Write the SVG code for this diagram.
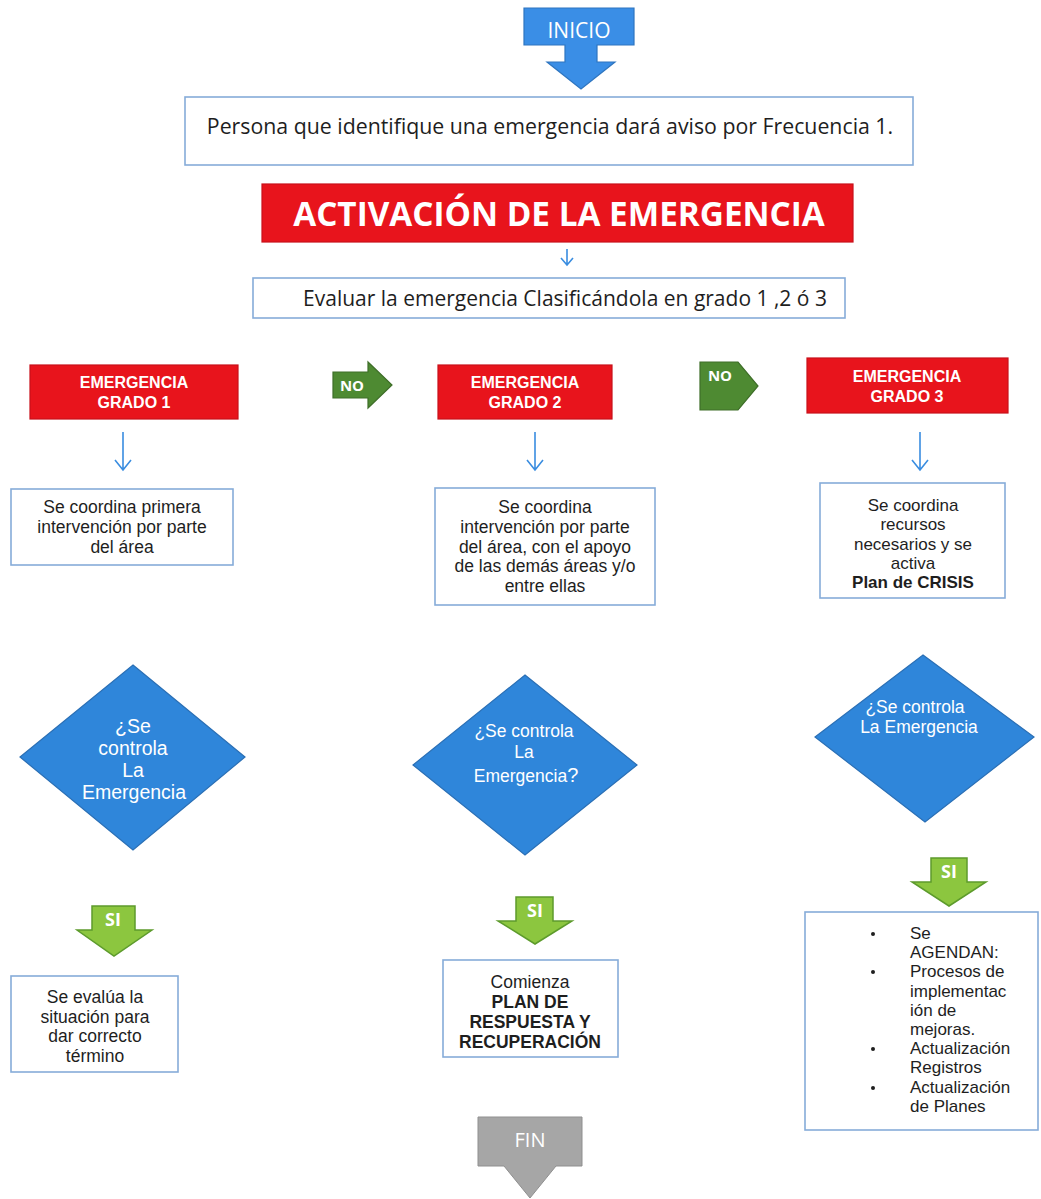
<svg xmlns="http://www.w3.org/2000/svg" width="1041" height="1199" viewBox="0 0 1041 1199">
<style>
.t{font-family:"Open Sans","Liberation Sans",sans-serif;fill:#1e1e1e;text-anchor:middle}
.w{font-family:"Open Sans","Liberation Sans",sans-serif;fill:#fff;text-anchor:middle}
.m{font-family:"Liberation Sans",Arial,sans-serif}
.b{font-weight:bold}
.box{fill:#fff;stroke:#86acd9;stroke-width:1.6}
.red{fill:#e8141c;stroke:#c8101a;stroke-width:1.2}
.dia{fill:#2f86da;stroke:#2a6fb5;stroke-width:1.2}
.thin{fill:none;stroke:#3a8de0;stroke-width:1.6}
.no{fill:#4e8a32;stroke:#3e6e28;stroke-width:1.2}
.si{fill:#8cc63f;stroke:#5d9b2c;stroke-width:1.5}
</style>
<rect width="1041" height="1199" fill="#fff"/>

<g id="inicio">
<path d="M524,8 H634 V45 H597 V62 H615 L581,89 L547,62 H565 V45 H524 Z" fill="#3a8ee6" stroke="#2e75c0" stroke-width="1.2"/>
<text class="w" x="579" y="38" font-size="21">INICIO</text>
</g>

<g id="aviso">
<rect class="box" x="185" y="97" width="728" height="68"/>
<text class="t" x="550" y="134" font-size="21.3">Persona que identifique una emergencia dará aviso por Frecuencia 1.</text>
</g>

<g id="activacion">
<rect class="red" x="262" y="184" width="591" height="58"/>
<text class="w b" x="559" y="226" font-size="33.3">ACTIVACIÓN DE LA EMERGENCIA</text>
</g>

<g id="evaluar">
<rect class="box" x="253" y="278" width="592" height="40"/>
<text class="t" x="565" y="306" font-size="21">Evaluar la emergencia Clasificándola en grado 1 ,2 ó 3</text>
</g>

<g id="grado1">
<rect class="red" x="30" y="365" width="208" height="54"/>
<text class="w m b" x="134" y="388" font-size="16"><tspan x="134">EMERGENCIA</tspan><tspan x="134" dy="20">GRADO 1</tspan></text>
</g>
<g id="grado2">
<rect class="red" x="438" y="365" width="174" height="54"/>
<text class="w m b" x="525" y="388" font-size="16"><tspan x="525">EMERGENCIA</tspan><tspan x="525" dy="20">GRADO 2</tspan></text>
</g>
<g id="grado3">
<rect class="red" x="807" y="358" width="201" height="55"/>
<text class="w m b" x="907" y="382" font-size="16"><tspan x="907">EMERGENCIA</tspan><tspan x="907" dy="19.5">GRADO 3</tspan></text>
</g>

<g id="coord1">
<rect class="box" x="11" y="489" width="222" height="76"/>
<text class="t m" x="122" y="513" font-size="17.5"><tspan x="122">Se coordina primera</tspan><tspan x="122" dy="20">intervención por parte</tspan><tspan x="122" dy="20">del área</tspan></text>
</g>
<g id="coord2">
<rect class="box" x="435" y="488" width="220" height="117"/>
<text class="t m" x="545" y="513" font-size="17.5"><tspan x="545">Se coordina</tspan><tspan x="545" dy="19.8">intervención por parte</tspan><tspan x="545" dy="19.8">del área, con el apoyo</tspan><tspan x="545" dy="19.8">de las demás áreas y/o</tspan><tspan x="545" dy="19.8">entre ellas</tspan></text>
</g>
<g id="coord3">
<rect class="box" x="820" y="483" width="185" height="115"/>
<text class="t m" x="913" y="511" font-size="17"><tspan x="913">Se coordina</tspan><tspan x="913" dy="19.3">recursos</tspan><tspan x="913" dy="19.3">necesarios y se</tspan><tspan x="913" dy="19.3">activa</tspan><tspan x="913" dy="19.3" font-weight="bold">Plan de CRISIS</tspan></text>
</g>

<g id="decision1">
<path class="dia" d="M133,665 L245,757 L133,850 L20,757 Z"/>
<text class="w m" x="133" y="733" font-size="19.5"><tspan x="133">¿Se</tspan><tspan x="133" dy="22">controla</tspan><tspan x="133" dy="22">La</tspan><tspan x="134" dy="22">Emergencia</tspan></text>
</g>
<g id="decision2">
<path class="dia" d="M525,675 L637,765 L525,855 L413,765 Z"/>
<text class="w m" x="524" y="737" font-size="17.5"><tspan x="524">¿Se controla</tspan><tspan x="524" dy="21">La</tspan><tspan x="526" dy="24">Emergencia<tspan font-size="20">?</tspan></tspan></text>
</g>
<g id="decision3">
<path class="dia" d="M923,655 L1034,737 L925,822 L815,737 Z"/>
<text class="w m" x="915" y="713" font-size="17.5"><tspan x="915">¿Se controla</tspan><tspan x="919" dy="20">La Emergencia</tspan></text>
</g>

<g id="evalua">
<rect class="box" x="11" y="976" width="167" height="96"/>
<text class="t m" x="95" y="1003" font-size="17.5"><tspan x="95">Se evalúa la</tspan><tspan x="95" dy="19.7">situación para</tspan><tspan x="95" dy="19.7">dar correcto</tspan><tspan x="95" dy="19.7">término</tspan></text>
</g>
<g id="plan">
<rect class="box" x="443" y="960" width="175" height="97"/>
<text class="t m" x="530" y="988" font-size="17.5"><tspan x="530">Comienza</tspan><tspan x="530" dy="20" font-weight="bold">PLAN DE</tspan><tspan x="530" dy="20" font-weight="bold">RESPUESTA Y</tspan><tspan x="530" dy="20" font-weight="bold">RECUPERACIÓN</tspan></text>
</g>
<g id="agendan">
<rect class="box" x="805" y="912" width="233" height="218"/>
<text class="t m" x="910" y="939" font-size="17" style="text-anchor:start"><tspan x="910">Se</tspan><tspan x="910" dy="19.2">AGENDAN:</tspan><tspan x="910" dy="19.2">Procesos de</tspan><tspan x="910" dy="19.2">implementac</tspan><tspan x="910" dy="19.2">ión de</tspan><tspan x="910" dy="19.2">mejoras.</tspan><tspan x="910" dy="19.2">Actualización</tspan><tspan x="910" dy="19.2">Registros</tspan><tspan x="910" dy="19.2">Actualización</tspan><tspan x="910" dy="19.2">de Planes</tspan></text>
<g fill="#1e1e1e">
<circle cx="873" cy="934" r="2"/>
<circle cx="873" cy="972" r="2"/>
<circle cx="873" cy="1049" r="2"/>
<circle cx="873" cy="1088" r="2"/>
</g>
</g>

<g id="fin">
<path d="M478,1117 H582 V1166 H556 L530,1198 L504,1166 H478 Z" fill="#a6a6a6" stroke="#8f8f8f" stroke-width="1"/>
<text class="w" x="530" y="1147" font-size="20" fill="#f2f2f2">FIN</text>
</g>

<g id="connectors">
<path class="thin" d="M567,249 V265 M561,258 L567,265 L573,258"/>
<path class="thin" d="M123,432 V470 M115,460 L123,470 L131,460"/>
<path class="thin" d="M535,432 V470 M527,460 L535,470 L543,460"/>
<path class="thin" d="M920,432 V470 M912,460 L920,470 L928,460"/>
<g id="no1">
<path class="no" d="M333,372 H368 V362 L392,385 L368,408 V398 H333 Z"/>
<text class="w b" x="352" y="391" font-size="15">NO</text>
</g>
<g id="no2">
<path class="no" d="M700,362 H738 L758,386 L738,410 H700 Z"/>
<text class="w b" x="720" y="381" font-size="15">NO</text>
</g>
<g id="si1">
<path class="si" d="M92,906 H135 V930 H152 L114,956 L77,930 H92 Z"/>
<text class="w b" x="113" y="926" font-size="18">SI</text>
</g>
<g id="si2">
<path class="si" d="M516,897 H553 V921 H572 L535,944 L498,921 H516 Z"/>
<text class="w b" x="535" y="917" font-size="18">SI</text>
</g>
<g id="si3">
<path class="si" d="M931,858 H967 V882 H986 L949,906 L912,882 H931 Z"/>
<text class="w b" x="949" y="878" font-size="18">SI</text>
</g>
</g>
</svg>
